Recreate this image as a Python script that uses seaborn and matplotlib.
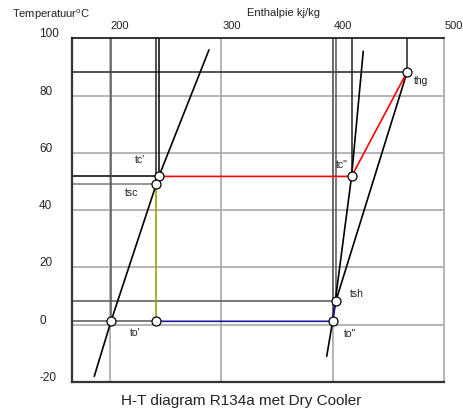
import matplotlib
matplotlib.use("Agg")
import matplotlib.pyplot as plt
import matplotlib.transforms as mtrans
import seaborn as sns

# ---------------- data ----------------
x_ticks = [200, 300, 400, 500]
y_ticks = [-20, 0, 20, 40, 60, 80, 100]
x_grid = [200, 300, 400]
y_grid = [0, 20, 40, 60, 80]

liquid_h = [186, 201, 244, 289]
liquid_T = [-18, 1.2, 51.8, 96]
vapour_h = [394.7, 400, 417, 427.5]
vapour_T = [-11, 1.2, 51.8, 95.5]

point_names = ["to'", "to_in", 'to"', "tsh", "thg", 'tc"', "tc'", "tsc"]
point_h = [201, 241, 400, 403, 467, 417, 244, 241]
point_T = [1.2, 1.2, 1.2, 8.4, 88.4, 51.8, 51.8, 49.1]

title = "H-T diagram R134a met Dry Cooler"
x_label = "Enthalpie kj/kg"
y_label = "Temperatuur$^{\\mathrm{o}}$C"

# --------------------------------------
sns.set_theme(style="white")
plt.rcParams['font.family'] = ['Liberation Sans', 'DejaVu Sans']
plt.rcParams['mathtext.fontset'] = 'custom'
plt.rcParams['mathtext.rm'] = 'Liberation Sans'

P = dict(zip(point_names, zip(point_h, point_T)))

fig = plt.figure(figsize=(4.64, 4.12), dpi=100)
ax = fig.add_axes([72 / 464, 30 / 412, 372 / 464, 343.6 / 412])
xmin, xmax = 166, 500
ymin, ymax = -20, 100
ax.set_xlim(xmin, xmax)
ax.set_ylim(ymin, ymax)

# grid
for g in x_grid:
    ax.axvline(g, color='#a8a8a8', lw=1.2, zorder=0)
for g in y_grid:
    ax.axhline(g, color='#a8a8a8', lw=1.2, zorder=0)

ax.set_xticks([])
ax.set_yticks([])
for s in ['left', 'bottom']:
    ax.spines[s].set_color('#333333')
    ax.spines[s].set_linewidth(1.6)
ax.spines['top'].set_color('#111111')
ax.spines['top'].set_linewidth(1.2)
ax.spines['right'].set_color('#a8a8a8')
ax.spines['right'].set_linewidth(1.2)

# reference lines: horizontal from left axis
hl = [("thg", P["thg"][0], '#222222'),
      ("tc'", P["tc'"][0], '#000000'),
      ("tsc", P["tsc"][0], '#7a7a7a'),
      ("tsh", P["tsh"][0], '#555555'),
      ("to'", P["to_in"][0], '#555555')]
for name, xend, c in hl:
    ax.hlines(P[name][1], xmin, xend, color=c, lw=1.1, zorder=2)

# vertical from top
vl = [("to'", '#555555'), ("tsc", '#222222'), ("tc'", '#000000'),
      ('to"', '#555555'), ("tsh", '#555555'), ('tc"', '#222222'), ("thg", '#222222')]
for name, c in vl:
    ax.vlines(P[name][0], P[name][1], ymax, color=c, lw=1.1, zorder=2)


def path(names, color, z=4):
    sns.lineplot(x=[P[n][0] for n in names], y=[P[n][1] for n in names], sort=False,
                 estimator=None, color=color, lw=1.2, ax=ax, zorder=z)


# saturation curves
sns.lineplot(x=liquid_h, y=liquid_T, sort=False, estimator=None, color='black', lw=1.2, ax=ax, zorder=3)
sns.lineplot(x=vapour_h, y=vapour_T, sort=False, estimator=None, color='black', lw=1.2, ax=ax, zorder=3)

path(["tsh", "thg"], 'black', 3)            # compression
path(["tc'", 'tc"', "thg"], '#ff0000')      # condensing / desuperheating
path(["to_in", 'to"', "tsh"], '#1a1aa0')    # evaporation
path(["tsc", "to_in"], '#a0a000')           # expansion

# state points
sns.scatterplot(x=point_h, y=point_T, marker='o', s=42, facecolor='white',
                edgecolor='black', linewidth=0.9, ax=ax, zorder=6)

# point labels (offsets in pixels)
lab_off = {"tc'": (-24, 16), "tsc": (-31, -9), "to'": (19, -12), 'to"': (11, -13),
           "tsh": (14, 7), 'tc"': (-16, 11), "thg": (7, -9)}
for name, (dx, dy) in lab_off.items():
    ax.annotate(name, P[name], xytext=(dx, dy), textcoords='offset pixels',
                ha='left', va='center', fontsize=7.5, color='#222222', zorder=7)

# tick labels
xt = ax.get_xaxis_transform() + mtrans.ScaledTranslation(1 / 100, 9 / 100, fig.dpi_scale_trans)
for v in x_ticks:
    ax.text(v, 1.0, str(v), transform=xt, ha='left', va='baseline',
            fontsize=8, color='#222222', clip_on=False)
yt = ax.get_yaxis_transform() + mtrans.ScaledTranslation(-33 / 100, 1 / 100, fig.dpi_scale_trans)
for v in y_ticks:
    ax.text(0, v, str(v), transform=yt, ha='left', va='baseline',
            fontsize=8.5, color='#222222', clip_on=False)

fig.text(12 / 464, 1 - 15 / 412, y_label, ha='left', va='center', fontsize=8, color='#222222')
fig.text(247 / 464, 1 - 13 / 412, x_label, ha='left', va='center', fontsize=8, color='#222222')
fig.text(241 / 464, 1 - 401 / 412, title, ha='center', va='center', fontsize=11, color='#222222')

fig.savefig("out.png", dpi=100)
